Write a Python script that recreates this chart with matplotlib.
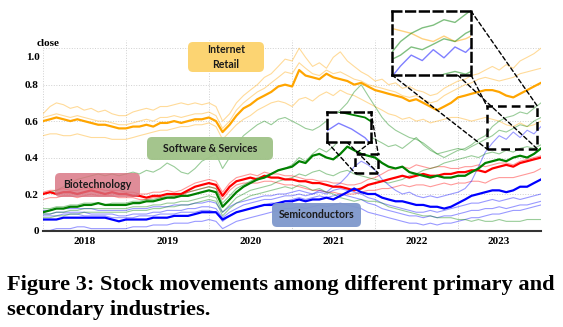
import numpy as np
import pandas as pd
import matplotlib
matplotlib.use('Agg')
import matplotlib.pyplot as plt
import matplotlib.dates as mdates
from matplotlib.patches import Rectangle, ConnectionPatch, FancyBboxPatch
from matplotlib.transforms import IdentityTransform, blended_transform_factory

# monthly closes, Jan 2018 .. Jan 2024 (normalised)
months = pd.date_range('2018-01-01', '2024-01-01', freq='MS')

# Internet Retail
retail_main = [0.60, 0.61, 0.62, 0.61, 0.60, 0.61, 0.60, 0.59, 0.58, 0.58, 0.57, 0.56,
               0.56, 0.57, 0.57, 0.58, 0.57, 0.59, 0.59, 0.60, 0.59, 0.60, 0.61, 0.61,
               0.62, 0.60, 0.54, 0.58, 0.63, 0.67, 0.69, 0.72, 0.74, 0.76, 0.79, 0.80,
               0.79, 0.88, 0.85, 0.84, 0.83, 0.86, 0.84, 0.83, 0.82, 0.80, 0.81, 0.79,
               0.77, 0.76, 0.75, 0.74, 0.73, 0.71, 0.72, 0.70, 0.68, 0.66, 0.68, 0.70,
               0.73, 0.74, 0.75, 0.76, 0.77, 0.77, 0.76, 0.74, 0.73, 0.75, 0.77, 0.79, 0.81]
retail_a = [0.64, 0.68, 0.70, 0.69, 0.67, 0.68, 0.66, 0.67, 0.65, 0.66, 0.64, 0.63,
            0.63, 0.65, 0.66, 0.67, 0.66, 0.68, 0.68, 0.69, 0.70, 0.69, 0.70, 0.69,
            0.70, 0.68, 0.60, 0.64, 0.70, 0.74, 0.77, 0.80, 0.84, 0.86, 0.90, 0.94,
            0.93, 1.00, 0.95, 0.90, 0.92, 0.89, 0.95, 0.98, 0.93, 0.90, 0.87, 0.85,
            0.82, 0.83, 0.80, 0.81, 0.78, 0.79, 0.77, 0.76, 0.74, 0.75, 0.78, 0.80,
            0.82, 0.83, 0.85, 0.86, 0.88, 0.90, 0.88, 0.91, 0.89, 0.93, 0.95, 0.97, 1.00]
retail_b = [0.62, 0.63, 0.64, 0.63, 0.62, 0.63, 0.62, 0.61, 0.60, 0.60, 0.59, 0.58,
            0.58, 0.59, 0.60, 0.61, 0.60, 0.62, 0.62, 0.63, 0.62, 0.63, 0.64, 0.64,
            0.65, 0.63, 0.56, 0.60, 0.66, 0.70, 0.73, 0.76, 0.78, 0.81, 0.84, 0.87,
            0.86, 0.92, 0.89, 0.86, 0.85, 0.88, 0.86, 0.87, 0.85, 0.83, 0.82, 0.80,
            0.79, 0.78, 0.77, 0.76, 0.74, 0.73, 0.74, 0.72, 0.70, 0.71, 0.74, 0.76,
            0.78, 0.80, 0.81, 0.83, 0.84, 0.83, 0.82, 0.83, 0.84, 0.86, 0.87, 0.88, 0.89]
retail_c = [0.52, 0.53, 0.53, 0.52, 0.52, 0.53, 0.52, 0.51, 0.51, 0.51, 0.50, 0.50,
            0.50, 0.51, 0.52, 0.53, 0.54, 0.55, 0.55, 0.56, 0.57, 0.57, 0.58, 0.58,
            0.59, 0.57, 0.50, 0.54, 0.58, 0.61, 0.63, 0.66, 0.68, 0.70, 0.71, 0.70,
            0.68, 0.72, 0.73, 0.71, 0.74, 0.76, 0.74, 0.77, 0.75, 0.74, 0.72, 0.70,
            0.68, 0.66, 0.64, 0.63, 0.61, 0.62, 0.60, 0.61, 0.59, 0.60, 0.61, 0.62,
            0.62, 0.61, 0.60, 0.61, 0.62, 0.61, 0.60, 0.58, 0.57, 0.59, 0.57, 0.58, 0.60]

# Software & Services
soft_main = [0.10, 0.11, 0.12, 0.12, 0.13, 0.13, 0.14, 0.14, 0.15, 0.14, 0.14, 0.14,
             0.14, 0.15, 0.15, 0.16, 0.16, 0.17, 0.18, 0.18, 0.19, 0.19, 0.20, 0.21,
             0.22, 0.21, 0.13, 0.17, 0.21, 0.24, 0.26, 0.28, 0.29, 0.31, 0.33, 0.34,
             0.35, 0.38, 0.37, 0.41, 0.42, 0.40, 0.39, 0.42, 0.46, 0.44, 0.42, 0.41,
             0.40, 0.37, 0.35, 0.34, 0.35, 0.32, 0.31, 0.30, 0.29, 0.30, 0.29, 0.29,
             0.30, 0.30, 0.32, 0.34, 0.37, 0.38, 0.39, 0.38, 0.40, 0.41, 0.40, 0.42, 0.45]
soft_a = [0.20, 0.21, 0.22, 0.24, 0.26, 0.28, 0.29, 0.30, 0.31, 0.30, 0.31, 0.30,
          0.31, 0.32, 0.31, 0.33, 0.32, 0.34, 0.37, 0.35, 0.32, 0.31, 0.34, 0.38,
          0.40, 0.42, 0.34, 0.40, 0.47, 0.52, 0.55, 0.58, 0.60, 0.58, 0.61, 0.62,
          0.60, 0.58, 0.56, 0.55, 0.57, 0.60, 0.63, 0.66, 0.70, 0.76, 0.80, 0.74,
          0.68, 0.62, 0.58, 0.55, 0.53, 0.51, 0.50, 0.48, 0.45, 0.42, 0.40, 0.42,
          0.44, 0.45, 0.47, 0.50, 0.52, 0.57, 0.60, 0.62, 0.63, 0.65, 0.64, 0.67, 0.70]
soft_b = [0.12, 0.12, 0.13, 0.13, 0.14, 0.14, 0.15, 0.15, 0.15, 0.14, 0.15, 0.15,
          0.15, 0.16, 0.16, 0.17, 0.17, 0.18, 0.19, 0.19, 0.20, 0.21, 0.22, 0.23,
          0.24, 0.23, 0.15, 0.19, 0.23, 0.25, 0.27, 0.29, 0.30, 0.31, 0.33, 0.34,
          0.36, 0.40, 0.38, 0.42, 0.45, 0.43, 0.46, 0.50, 0.53, 0.56, 0.54, 0.52,
          0.50, 0.48, 0.46, 0.47, 0.45, 0.48, 0.51, 0.47, 0.44, 0.42, 0.43, 0.44,
          0.45, 0.44, 0.46, 0.48, 0.50, 0.52, 0.55, 0.54, 0.56, 0.58, 0.57, 0.60, 0.62]
soft_c = [0.09, 0.09, 0.10, 0.10, 0.11, 0.11, 0.12, 0.12, 0.12, 0.12, 0.12, 0.12,
          0.12, 0.13, 0.13, 0.13, 0.14, 0.14, 0.15, 0.15, 0.16, 0.16, 0.17, 0.18,
          0.19, 0.18, 0.10, 0.14, 0.18, 0.20, 0.22, 0.23, 0.24, 0.25, 0.27, 0.28,
          0.29, 0.31, 0.30, 0.32, 0.33, 0.31, 0.30, 0.32, 0.33, 0.31, 0.30, 0.29,
          0.28, 0.27, 0.26, 0.27, 0.28, 0.30, 0.31, 0.33, 0.34, 0.35, 0.37, 0.38,
          0.39, 0.40, 0.41, 0.40, 0.42, 0.43, 0.42, 0.44, 0.43, 0.45, 0.46, 0.45, 0.47]
soft_d = [0.07, 0.07, 0.08, 0.08, 0.09, 0.09, 0.10, 0.10, 0.10, 0.10, 0.10, 0.10,
          0.10, 0.11, 0.11, 0.11, 0.12, 0.12, 0.13, 0.13, 0.14, 0.14, 0.15, 0.16,
          0.17, 0.16, 0.08, 0.12, 0.15, 0.17, 0.19, 0.20, 0.21, 0.22, 0.23, 0.24,
          0.23, 0.25, 0.24, 0.22, 0.23, 0.21, 0.20, 0.18, 0.17, 0.16, 0.17, 0.16,
          0.16, 0.15, 0.13, 0.12, 0.11, 0.10, 0.09, 0.08, 0.08, 0.07, 0.07, 0.07,
          0.06, 0.06, 0.05, 0.06, 0.05, 0.05, 0.06, 0.05, 0.05, 0.05, 0.06, 0.06, 0.06]

# Biotechnology
bio_main = [0.20, 0.21, 0.20, 0.21, 0.21, 0.20, 0.21, 0.22, 0.21, 0.20, 0.21, 0.20,
            0.20, 0.19, 0.19, 0.18, 0.19, 0.19, 0.20, 0.20, 0.20, 0.22, 0.24, 0.25,
            0.26, 0.25, 0.19, 0.24, 0.27, 0.28, 0.29, 0.28, 0.30, 0.29, 0.29, 0.28,
            0.28, 0.27, 0.27, 0.26, 0.26, 0.25, 0.24, 0.24, 0.23, 0.22, 0.23, 0.25,
            0.26, 0.27, 0.28, 0.29, 0.30, 0.29, 0.30, 0.31, 0.30, 0.30, 0.31, 0.31,
            0.32, 0.32, 0.33, 0.33, 0.32, 0.34, 0.35, 0.36, 0.35, 0.37, 0.38, 0.39, 0.40]
bio_a = [0.21, 0.22, 0.22, 0.23, 0.22, 0.22, 0.23, 0.23, 0.23, 0.22, 0.22, 0.22,
         0.21, 0.21, 0.20, 0.20, 0.21, 0.21, 0.22, 0.21, 0.22, 0.24, 0.26, 0.27,
         0.28, 0.27, 0.21, 0.26, 0.29, 0.30, 0.31, 0.30, 0.32, 0.31, 0.31, 0.30,
         0.30, 0.29, 0.28, 0.28, 0.27, 0.27, 0.26, 0.26, 0.25, 0.25, 0.26, 0.28,
         0.29, 0.31, 0.33, 0.34, 0.35, 0.34, 0.36, 0.35, 0.34, 0.35, 0.35, 0.34,
         0.34, 0.35, 0.35, 0.36, 0.35, 0.36, 0.37, 0.37, 0.36, 0.38, 0.39, 0.40, 0.41]
bio_b = [0.17, 0.18, 0.18, 0.19, 0.19, 0.18, 0.19, 0.20, 0.19, 0.19, 0.19, 0.18,
         0.18, 0.18, 0.17, 0.17, 0.18, 0.18, 0.18, 0.19, 0.19, 0.21, 0.22, 0.23,
         0.24, 0.23, 0.17, 0.22, 0.25, 0.26, 0.26, 0.26, 0.27, 0.27, 0.26, 0.25,
         0.25, 0.24, 0.23, 0.22, 0.22, 0.21, 0.21, 0.20, 0.20, 0.20, 0.21, 0.22,
         0.22, 0.23, 0.23, 0.24, 0.25, 0.24, 0.25, 0.25, 0.24, 0.25, 0.26, 0.25,
         0.26, 0.26, 0.27, 0.27, 0.26, 0.28, 0.29, 0.29, 0.29, 0.30, 0.31, 0.32, 0.34]

# Semiconductors
semi_main = [0.06, 0.06, 0.06, 0.07, 0.07, 0.07, 0.07, 0.07, 0.07, 0.07, 0.06, 0.05,
             0.06, 0.06, 0.06, 0.06, 0.07, 0.07, 0.07, 0.08, 0.08, 0.08, 0.09, 0.10,
             0.10, 0.10, 0.06, 0.08, 0.10, 0.11, 0.12, 0.13, 0.14, 0.14, 0.15, 0.16,
             0.16, 0.17, 0.16, 0.17, 0.17, 0.18, 0.17, 0.19, 0.21, 0.23, 0.21, 0.20,
             0.20, 0.18, 0.17, 0.16, 0.16, 0.15, 0.14, 0.14, 0.13, 0.13, 0.12, 0.13,
             0.15, 0.17, 0.19, 0.20, 0.21, 0.22, 0.22, 0.21, 0.22, 0.24, 0.24, 0.26, 0.28]
semi_a = [0.11, 0.11, 0.12, 0.12, 0.12, 0.12, 0.12, 0.12, 0.11, 0.11, 0.11, 0.11,
          0.11, 0.12, 0.12, 0.12, 0.13, 0.13, 0.13, 0.14, 0.14, 0.14, 0.15, 0.15,
          0.16, 0.15, 0.10, 0.13, 0.15, 0.16, 0.17, 0.18, 0.19, 0.19, 0.20, 0.20,
          0.21, 0.22, 0.21, 0.20, 0.22, 0.21, 0.24, 0.26, 0.30, 0.35, 0.38, 0.36,
          0.33, 0.28, 0.25, 0.22, 0.20, 0.21, 0.19, 0.18, 0.19, 0.18, 0.19, 0.20,
          0.21, 0.23, 0.27, 0.35, 0.43, 0.48, 0.52, 0.50, 0.54, 0.51, 0.55, 0.53, 0.57]
semi_b = [0.09, 0.09, 0.10, 0.10, 0.10, 0.10, 0.10, 0.09, 0.09, 0.09, 0.09, 0.08,
          0.08, 0.09, 0.09, 0.09, 0.10, 0.10, 0.11, 0.11, 0.11, 0.12, 0.12, 0.13,
          0.13, 0.12, 0.07, 0.10, 0.12, 0.14, 0.15, 0.16, 0.17, 0.17, 0.18, 0.19,
          0.19, 0.20, 0.19, 0.20, 0.21, 0.20, 0.22, 0.23, 0.22, 0.21, 0.20, 0.18,
          0.17, 0.15, 0.14, 0.13, 0.12, 0.11, 0.10, 0.10, 0.11, 0.10, 0.11, 0.12,
          0.13, 0.14, 0.15, 0.15, 0.16, 0.17, 0.16, 0.17, 0.18, 0.17, 0.18, 0.19, 0.20]
semi_c = [0.08, 0.08, 0.08, 0.09, 0.09, 0.09, 0.08, 0.08, 0.08, 0.08, 0.07, 0.07,
          0.07, 0.07, 0.08, 0.08, 0.08, 0.09, 0.09, 0.09, 0.10, 0.10, 0.10, 0.11,
          0.11, 0.10, 0.05, 0.08, 0.10, 0.11, 0.12, 0.13, 0.14, 0.15, 0.15, 0.16,
          0.17, 0.18, 0.17, 0.18, 0.19, 0.18, 0.19, 0.20, 0.19, 0.18, 0.17, 0.15,
          0.14, 0.12, 0.11, 0.10, 0.09, 0.08, 0.08, 0.07, 0.08, 0.07, 0.08, 0.08,
          0.09, 0.10, 0.11, 0.11, 0.12, 0.12, 0.13, 0.12, 0.13, 0.14, 0.14, 0.15, 0.16]
semi_d = [0.00, 0.00, 0.01, 0.01, 0.01, 0.02, 0.02, 0.01, 0.01, 0.01, 0.01, 0.01,
          0.01, 0.02, 0.02, 0.02, 0.03, 0.03, 0.03, 0.04, 0.04, 0.04, 0.05, 0.05,
          0.06, 0.05, 0.01, 0.03, 0.05, 0.06, 0.07, 0.08, 0.09, 0.10, 0.11, 0.12,
          0.12, 0.13, 0.12, 0.13, 0.14, 0.13, 0.14, 0.15, 0.14, 0.13, 0.12, 0.10,
          0.09, 0.08, 0.07, 0.06, 0.05, 0.04, 0.04, 0.03, 0.04, 0.03, 0.04, 0.04,
          0.05, 0.06, 0.07, 0.07, 0.08, 0.09, 0.09, 0.10, 0.11, 0.11, 0.12, 0.13, 0.14]

groups = [
    ('#ffa500', retail_main, [retail_a, retail_b, retail_c]),
    ('#ff0000', bio_main, [bio_a, bio_b]),
    ('#0000ff', semi_main, [semi_a, semi_b, semi_c, semi_d]),
    ('#008000', soft_main, [soft_a, soft_b, soft_c, soft_d]),
]

ytick_vals = [0, 0.2, 0.4, 0.6, 0.8, 1.0]
ytick_text = ['0', '0.2', '0.4', '0.6', '0.8', '']  # '1.0' is placed by hand, a bit low

# industry tags: text, box in pixels (left, top, right, bottom), colour, alpha
tags = [
    ('Internet\nRetail', (188, 42, 264, 72), '#fcd472', 1.0),
    ('Software & Services', (147, 137, 273, 160), '#9fc287', 0.95),
    ('Biotechnology', (55, 173, 140, 197), '#d8707e', 0.8),
    ('Semiconductors', (272, 203, 361, 227), '#7f98cc', 0.95),
]

serif = 'Liberation Serif'
sans = 'Lato'
W, H = 563, 327


def draw_lines(ax, thin_lw=0.8, thick_lw=1.6, thin_alpha=0.4):
    for color, main, thins in groups:
        for s in thins:
            ax.plot(months, s, color=color, lw=thin_lw, alpha=thin_alpha)
    for color, main, thins in groups:
        ax.plot(months, main, color=color, lw=thick_lw)


fig = plt.figure(figsize=(W / 100, H / 100), dpi=100)
ax = fig.add_axes([43 / W, 1 - 231 / H, 498 / W, 191 / H])
draw_lines(ax)

ax.set_xlim(months[0], months[-1])
ax.set_ylim(-0.003, 1.045)
ax.xaxis.set_major_locator(mdates.YearLocator())
ax.xaxis.set_major_formatter(plt.NullFormatter())
ax.xaxis.set_minor_locator(mdates.MonthLocator(bymonth=7))
ax.xaxis.set_minor_formatter(mdates.DateFormatter('%Y'))
ax.tick_params(axis='x', which='both', length=0, pad=4)
ax.tick_params(axis='y', length=0, pad=3)
ax.set_yticks(ytick_vals)
ax.set_yticklabels(ytick_text)
for lab in ax.get_xticklabels(minor=True) + ax.get_yticklabels():
    lab.set_fontfamily(serif)
    lab.set_fontweight('bold')
    lab.set_fontsize(8)
ax.grid(True, which='major', color='#d0d0d0', ls=':', lw=0.7)
for side in ['top', 'right', 'left']:
    ax.spines[side].set_visible(False)
ax.spines['bottom'].set_color('#333333')
ax.spines['bottom'].set_linewidth(1.5)

yl = blended_transform_factory(ax.transAxes, ax.transData)
ax.text(-0.006, 0.95, '1.0', transform=yl, fontfamily=serif, fontweight='bold',
        fontsize=8, ha='right', va='center')
ax.text(-0.013, 0.984, 'close', transform=ax.transAxes, fontfamily=serif,
        fontweight='bold', fontsize=8, ha='left', va='center')

# industry tags
for text, (l, t, r, b), fc, alpha in tags:
    box = FancyBboxPatch((l, H - b), r - l, b - t, boxstyle='round,pad=0,rounding_size=5',
                         transform=IdentityTransform(), fc=fc, ec='none', alpha=alpha, zorder=9)
    fig.add_artist(box)
    fig.text((l + r) / 2 / W, 1 - (t + b) / 2 / H, text, fontfamily=sans, fontweight='bold',
             fontsize=7.6, color='#1a1a1a', ha='center', va='center', linespacing=1.35, zorder=10)

# zoom insets
zooms = [
    # inset px box (l, t, r, b), source (x0, x1, y0, y1), extra anchor on inset bottom
    ((327, 112, 371, 142), ('2021-10-05', '2022-01-15', 0.315, 0.419), 0.45),
    ((392, 11, 471, 75), ('2023-05-08', '2023-12-16', 0.447, 0.682), 0.83),
]
dash = (0, (3.5, 2))
for (l, t, r, b), (sx0, sx1, sy0, sy1), extra in zooms:
    x0, x1 = pd.Timestamp(sx0), pd.Timestamp(sx1)
    ins = fig.add_axes([l / W, 1 - b / H, (r - l) / W, (b - t) / H])
    draw_lines(ins, thin_lw=1.0, thick_lw=1.3, thin_alpha=0.5)
    ins.set_xlim(x0, x1)
    ins.set_ylim(sy0, sy1)
    ins.set_xticks([])
    ins.set_yticks([])
    ins.set_zorder(20)
    for sp in ins.spines.values():
        sp.set_linestyle(dash)
        sp.set_linewidth(1.8)
        sp.set_color('black')
    rect = Rectangle((mdates.date2num(x0), sy0), mdates.date2num(x1) - mdates.date2num(x0),
                     sy1 - sy0, fill=False, ec='black', lw=1.8, ls=dash, zorder=15)
    ax.add_patch(rect)
    links = [((1, 1), (x1, sy1)), ((0, 0), (x0, sy0)), ((extra, 0), (x1, sy0)), ((1, 0), (x0, sy1))]
    for pa, (bx, by) in links:
        con = ConnectionPatch(xyA=pa, coordsA=ins.transAxes,
                              xyB=(mdates.date2num(bx), by), coordsB=ax.transData,
                              color='black', lw=1.0, ls=(0, (3, 2)))
        fig.add_artist(con)

# caption
cap_kw = dict(fontfamily=serif, fontweight='bold', fontsize=16.1, ha='left', va='baseline')
fig.text(7 / W, 1 - 290 / H, 'Figure 3: Stock movements among different primary and', **cap_kw)
fig.text(7 / W, 1 - 315 / H, 'secondary industries.', **cap_kw)

fig.savefig('out.png', dpi=100)
